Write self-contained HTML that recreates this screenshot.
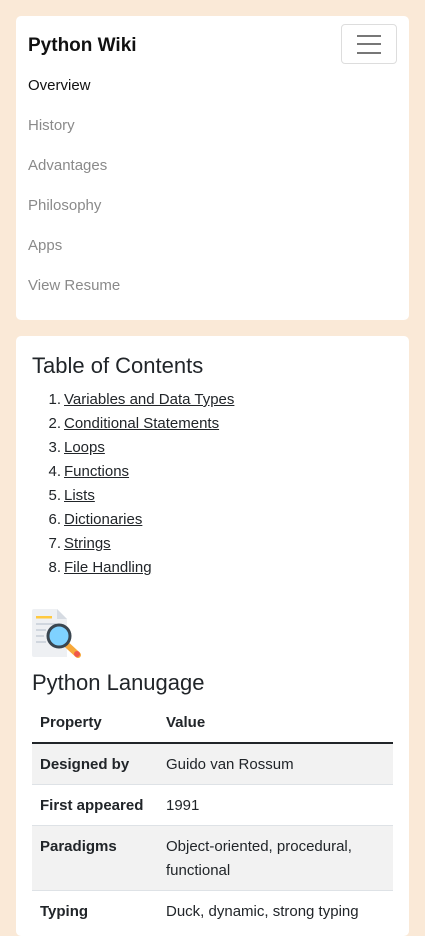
<!DOCTYPE html>
<html><head><meta charset="utf-8"><style>
*{box-sizing:border-box;margin:0;padding:0}
body{width:425px;height:911px;overflow:hidden;background:#fae9d7;font-family:"Liberation Sans",sans-serif;color:#212529;position:relative}
.card{position:absolute;left:16px;width:393px;background:#fff;border-radius:5px}
.a{position:absolute;white-space:nowrap}
.nav{font-size:15px;color:#8a8a8a;left:12px}
ol li{position:absolute;left:0;font-size:15px;white-space:nowrap}
ol li span.n{position:absolute;left:0;width:13px;text-align:right}
ol li a{position:absolute;left:32px;color:#212529;text-decoration:underline}
table{position:absolute;left:16px;top:367px;width:361px;border-collapse:collapse;font-size:15px;table-layout:fixed}
td,th{padding:0 8px;text-align:left;vertical-align:top;line-height:24px}
th{font-weight:bold}
</style></head><body>
<div class="card" style="top:16px;height:304px">
  <div class="a" style="left:12px;top:19px;font-size:19px;font-weight:bold;color:#111">Python Wiki</div>
  <div class="a" style="left:325px;top:8px;width:56px;height:40px;border:1px solid #ddd;border-radius:4px">
    <div style="position:absolute;left:15px;top:10px;width:24px;height:2px;background:#777"></div>
    <div style="position:absolute;left:15px;top:18px;width:24px;height:2px;background:#777"></div>
    <div style="position:absolute;left:15px;top:27px;width:24px;height:2px;background:#777"></div>
  </div>
  <div class="a nav" style="top:61px;color:#111">Overview</div>
  <div class="a nav" style="top:101px">History</div>
  <div class="a nav" style="top:141px">Advantages</div>
  <div class="a nav" style="top:181px">Philosophy</div>
  <div class="a nav" style="top:221px">Apps</div>
  <div class="a nav" style="top:261px">View Resume</div>
</div>
<div class="card" style="top:336px;height:600px">
  <div class="a" style="left:16px;top:17px;font-size:22px;color:#212529">Table of Contents</div>
  <ol style="position:absolute;left:32px;top:55px;list-style:none">
    <li style="top:0"><span class="n">1.</span><a style="left:16px">Variables and Data Types</a></li>
    <li style="top:24px"><span class="n">2.</span><a style="left:16px">Conditional Statements</a></li>
    <li style="top:48px"><span class="n">3.</span><a style="left:16px">Loops</a></li>
    <li style="top:72px"><span class="n">4.</span><a style="left:16px">Functions</a></li>
    <li style="top:96px"><span class="n">5.</span><a style="left:16px">Lists</a></li>
    <li style="top:120px"><span class="n">6.</span><a style="left:16px">Dictionaries</a></li>
    <li style="top:144px"><span class="n">7.</span><a style="left:16px">Strings</a></li>
    <li style="top:168px"><span class="n">8.</span><a style="left:16px">File Handling</a></li>
  </ol>
  <svg class="a" style="left:16px;top:273px" width="50" height="50" viewBox="0 0 50 50">
    <path d="M0 2 Q0 0 2 0 H25 L35 10 V48 H2 Q0 48 0 46Z" fill="#eef0f3"/>
    <path d="M25 0 L35 10 H25Z" fill="#d6dbe2"/>
    <rect x="4" y="7" width="16" height="2.5" fill="#ffc940"/>
    <rect x="4" y="14" width="20" height="2" fill="#d0d6de"/>
    <rect x="4" y="20" width="10" height="2" fill="#d0d6de"/>
    <rect x="4" y="26" width="8" height="2" fill="#d0d6de"/>
    <rect x="4" y="32" width="10" height="2" fill="#d0d6de"/>
    <line x1="34" y1="35" x2="46" y2="46" stroke="#f7a93b" stroke-width="6" stroke-linecap="round"/>
    <circle cx="45" cy="45" r="3" fill="#f0584a"/>
    <circle cx="27" cy="27" r="11" fill="#7fd2ff" stroke="#3a4650" stroke-width="3"/>
  </svg>
  <div class="a" style="left:16px;top:334px;font-size:22px">Python Lanugage</div>
  <table>
    <colgroup><col style="width:126px"><col></colgroup>
    <tr style="height:40px;border-bottom:2px solid #212529"><th style="padding-top:8px">Property</th><th style="padding-top:8px">Value</th></tr>
    <tr style="height:41px;background:#f2f2f2;border-bottom:1px solid #dee2e6"><th style="padding-top:9px">Designed by</th><td style="padding-top:9px">Guido van Rossum</td></tr>
    <tr style="height:41px;border-bottom:1px solid #dee2e6"><th style="padding-top:9px">First appeared</th><td style="padding-top:9px">1991</td></tr>
    <tr style="height:65px;background:#f2f2f2;border-bottom:1px solid #dee2e6"><th style="padding-top:9px">Paradigms</th><td style="padding-top:9px">Object-oriented, procedural, functional</td></tr>
    <tr style="height:41px"><th style="padding-top:9px">Typing</th><td style="padding-top:9px">Duck, dynamic, strong typing</td></tr>
  </table>
</div>
</body></html>
